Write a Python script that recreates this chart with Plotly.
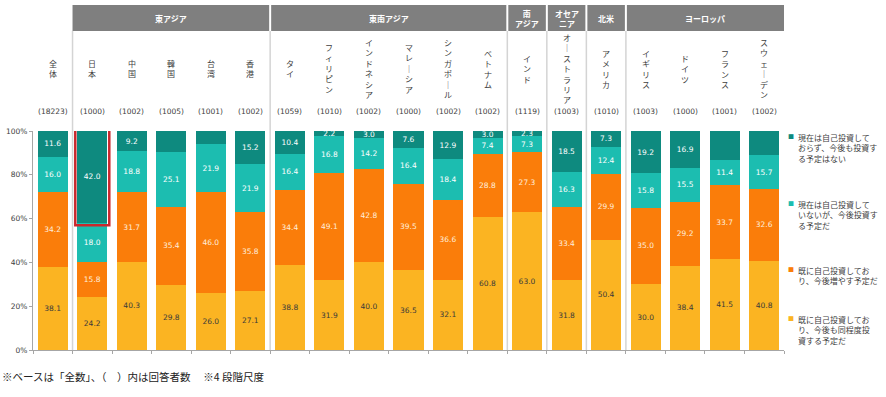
import plotly.graph_objects as go

countries = ["全体", "日本", "中国", "韓国", "台湾", "香港",
             "タイ", "フィリピン", "インドネシア", "マレーシア", "シンガポール", "ベトナム",
             "インド", "オーストラリア", "アメリカ",
             "イギリス", "ドイツ", "フランス", "スウェーデン"]
n_resp = [18223, 1000, 1002, 1005, 1001, 1002, 1059, 1010, 1002, 1000, 1002, 1002,
          1119, 1003, 1010, 1003, 1000, 1001, 1002]

same_level = [38.1, 24.2, 40.3, 29.8, 26.0, 27.1, 38.8, 31.9, 40.0, 36.5, 32.1, 60.8,
              63.0, 31.8, 50.4, 30.0, 38.4, 41.5, 40.8]
increase = [34.2, 15.8, 31.7, 35.4, 46.0, 35.8, 34.4, 49.1, 42.8, 39.5, 36.6, 28.8,
            27.3, 33.4, 29.9, 35.0, 29.2, 33.7, 32.6]
will_start = [16.0, 18.0, 18.8, 25.1, 21.9, 21.9, 16.4, 16.8, 14.2, 16.4, 18.4, 7.4,
              7.3, 16.3, 12.4, 15.8, 15.5, 11.4, 15.7]
no_plan = [11.6, 42.0, 9.2, 9.8, 6.2, 15.2, 10.4, 2.2, 3.0, 7.6, 12.9, 3.0,
           2.3, 18.5, 7.3, 19.2, 16.9, 13.5, 10.9]

y_ticks = [0, 20, 40, 60, 80, 100]
y_tick_labels = ["0%", "20%", "40%", "60%", "80%", "100%"]

series_names = ["既に自己投資してお<br>り、今後も同程度投<br>資する予定だ",
                "既に自己投資してお<br>り、今後増やす予定だ",
                "現在は自己投資して<br>いないが、今後投資す<br>る予定だ",
                "現在は自己投資して<br>おらず、今後も投資す<br>る予定はない"]
series_vals = [same_level, increase, will_start, no_plan]
colors = ["#FBB422", "#FA7D0A", "#1CBDB0", "#0E8A7F"]
text_colors = ["#3A3A3A", "#FFEEDD", "#FFFFFF", "#FFFFFF"]

groups = [("東アジア", 1, 5), ("東南アジア", 6, 11), ("南<br>アジア", 12, 12),
          ("オセア<br>ニア", 13, 13), ("北米", 14, 14), ("ヨーロッパ", 15, 18)]

highlight_idx = 1  # 日本

JP = "Noto Sans CJK JP"
NUM = "DejaVu Sans"

x = list(range(len(countries)))
fig = go.Figure()
for name, vals, c, tc in zip(series_names, series_vals, colors, text_colors):
    fig.add_trace(go.Bar(
        x=x, y=vals, name=name, marker=dict(color=c, line=dict(width=0)),
        text=[f"{v:.1f}" for v in vals], textposition="inside",
        insidetextanchor="middle", textangle=0,
        textfont=dict(family=NUM, size=7.5, color=tc),
        showlegend=False, cliponaxis=False, hoverinfo="skip",
    ))

PT, PB = 131, 350
PL, PR = 33, 784
def py(pix):
    return (PB - pix) / (PB - PT)
def px(pix):
    return (pix - PL) / (PR - PL)

shapes = []
shapes.append(dict(type="rect", xref="x", yref="paper", x0=0.5, x1=len(countries) - 0.5,
                   y0=py(31), y1=py(5), fillcolor="#7F7F7F", line=dict(width=0), layer="above"))
bounds = [g[1] - 0.5 for g in groups] + [groups[-1][2] + 0.5]
for b in bounds[1:-1]:
    shapes.append(dict(type="line", xref="x", yref="paper", x0=b, x1=b, y0=py(31), y1=py(5),
                       line=dict(color="#FFFFFF", width=2), layer="above"))
for b in bounds[:-1]:
    shapes.append(dict(type="line", xref="x", yref="paper", x0=b, x1=b, y0=0, y1=py(31),
                       line=dict(color="#D4D4D4", width=1.5), layer="below"))

base = same_level[highlight_idx] + increase[highlight_idx] + will_start[highlight_idx]
shapes.append(dict(type="rect", xref="x", yref="y", x0=highlight_idx - 0.43, x1=highlight_idx + 0.43,
                   y0=base - 1.0, y1=102.5, line=dict(color="#C9282D", width=2.5),
                   fillcolor="rgba(0,0,0,0)", layer="above"))

ann = []
for gname, a, b in groups:
    ann.append(dict(x=(a + b) / 2, y=py(18), xref="x", yref="paper", text=f"<b>{gname}</b>",
                    showarrow=False, font=dict(family=JP, size=8, color="#FFFFFF"),
                    yanchor="middle", xanchor="center"))

for i, c in enumerate(countries):
    vert = "<br>".join("｜" if ch == "ー" else ch for ch in c)
    ann.append(dict(x=i, y=py(69), xref="x", yref="paper", text=vert, showarrow=False,
                    font=dict(family=JP, size=8, color="#404040"), yanchor="middle",
                    xanchor="center"))
    ann.append(dict(x=i, y=py(112), xref="x", yref="paper", text=f"({n_resp[i]})",
                    showarrow=False, font=dict(family=NUM, size=7.5, color="#404040"),
                    yanchor="middle", xanchor="center"))

leg_tops = [130, 197, 263, 312]
order = [3, 2, 1, 0]
for top, si in zip(leg_tops, order):
    ann.append(dict(x=px(796), y=py(top), xref="paper", yref="paper", text=series_names[si],
                    showarrow=False, align="left", xanchor="left", yanchor="top",
                    font=dict(family=JP, size=8, color="#404040")))
    ann.append(dict(x=px(796), y=py(top + 6), xref="paper", yref="paper", text="■",
                    showarrow=False, xanchor="right", yanchor="middle",
                    font=dict(family=JP, size=6, color=colors[si])))

ann.append(dict(x=px(0), y=py(376), xref="paper", yref="paper",
                text="※ベースは「全数」、（　）内は回答者数　 ※4 段階尺度", showarrow=False,
                xanchor="left", yanchor="middle", font=dict(family=JP, size=10.5, color="#222222")))

fig.update_layout(
    width=886, height=397, barmode="stack", bargap=0.24,
    margin=dict(l=PL, r=886 - PR, t=PT, b=397 - PB, pad=0, autoexpand=False),
    paper_bgcolor="#FFFFFF", plot_bgcolor="#FFFFFF",
    shapes=shapes, annotations=ann,
    uniformtext=dict(minsize=7.5, mode="show"),
    xaxis=dict(range=[-0.5, len(countries) - 0.5], tickmode="array",
               tickvals=[i - 0.5 for i in range(len(countries) + 1)],
               ticktext=[""] * (len(countries) + 1), ticks="outside", ticklen=3,
               tickcolor="#A6A6A6", showline=True, linecolor="#A6A6A6", linewidth=1,
               showgrid=False, zeroline=False, automargin=False),
    yaxis=dict(range=[0, 100], tickmode="array", tickvals=y_ticks, ticktext=y_tick_labels,
               ticks="outside", ticklen=3, tickcolor="#A6A6A6", showline=True,
               linecolor="#A6A6A6", linewidth=1, showgrid=False, zeroline=False,
               automargin=False, tickfont=dict(family=NUM, size=7.5, color="#404040")),
    showlegend=False,
)

fig.write_html("out.html", config={"displayModeBar": False},
               post_script="document.body.style.margin='0';document.body.style.overflow='hidden';")
